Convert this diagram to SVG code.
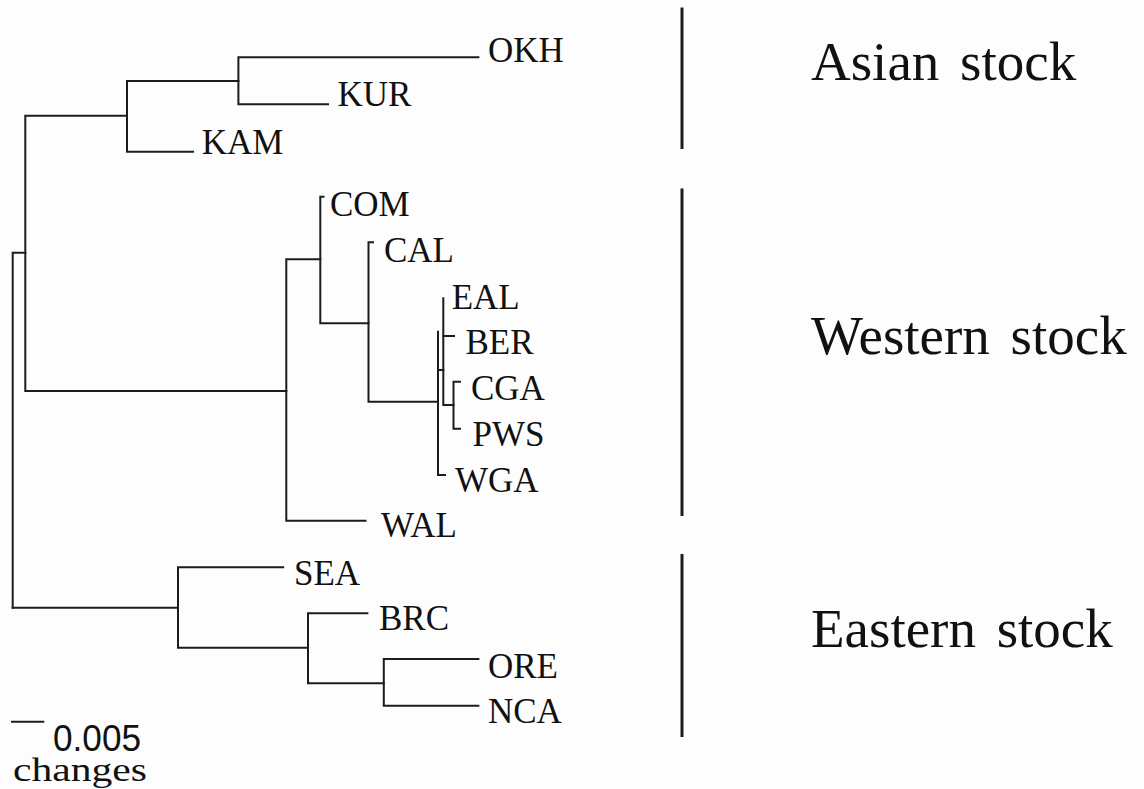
<svg xmlns="http://www.w3.org/2000/svg" width="1144" height="789" viewBox="0 0 1144 789">
  <style>
    .br { fill: none; stroke: #1c1c1c; stroke-width: 2; stroke-linecap: square; stroke-linejoin: miter; }
    .bar { stroke: #1c1c1c; stroke-width: 3; }
    .leaf { font-family: "Liberation Serif", "Times New Roman", serif; font-size: 35px; fill: #111; }
    .stock { font-family: "Liberation Serif", "Times New Roman", serif; font-size: 55px; fill: #111; word-spacing: 7px; }
    .num { font-family: "Liberation Sans", Arial, sans-serif; font-size: 37px; fill: #111; }
    .unit { font-family: "Liberation Serif", "Times New Roman", serif; font-size: 33px; fill: #111; }
  </style>
  <rect width="1144" height="789" fill="#fdfdfd"/>

  <!-- branches of the tree -->
  <g id="connectors" class="br">
    <!-- root -->
    <path d="M25.3,252.7 H12.7 V607.7"/>
    <!-- Asian + Western -->
    <path d="M127,115.7 H25.3 V391 H286.3"/>
    <!-- Asian clade -->
    <path d="M238.4,81 H127 V151.7 H193"/>
    <path d="M478.4,57.3 H238.4 V104.3 H328"/>
    <!-- Western clade -->
    <path d="M320.3,259.3 H286.3 V520.7 H365.5"/>
    <path d="M323.5,196.7 H320.3 V323.3 H368.5"/>
    <path d="M373,242.3 H368.5 V401.7 H438"/>
    <path d="M438,331.7 V475 H445"/>
    <path d="M438,370 H443.3"/>
    <path d="M443.3,298.3 V405 H453.5"/>
    <path d="M443.3,336 H454"/>
    <path d="M460,381.7 H453.5 V428.7 H460"/>
    <!-- Eastern clade -->
    <path d="M12.7,607.7 H178"/>
    <path d="M283.2,567.3 H178 V647.7 H308"/>
    <path d="M367.4,613.3 H308 V683.3 H383.8"/>
    <path d="M478.4,659 H383.8 V705.7 H478.4"/>
  </g>

  <!-- leaf labels -->
  <g id="OKH"><text class="leaf" x="488" y="61.5">OKH</text></g>
  <g id="KUR"><text class="leaf" x="337.5" y="106">KUR</text></g>
  <g id="KAM"><text class="leaf" x="201.7" y="153.5">KAM</text></g>
  <g id="COM"><text class="leaf" x="330" y="215.7">COM</text></g>
  <g id="CAL"><text class="leaf" x="384" y="262">CAL</text></g>
  <g id="EAL"><text class="leaf" x="451.7" y="308.5">EAL</text></g>
  <g id="BER"><text class="leaf" x="465.5" y="353.5">BER</text></g>
  <g id="CGA"><text class="leaf" x="471" y="400">CGA</text></g>
  <g id="PWS"><text class="leaf" x="472.5" y="446">PWS</text></g>
  <g id="WGA"><text class="leaf" x="455" y="492">WGA</text></g>
  <g id="WAL"><text class="leaf" x="381" y="537">WAL</text></g>
  <g id="SEA"><text class="leaf" x="294" y="585">SEA</text></g>
  <g id="BRC"><text class="leaf" x="379" y="630">BRC</text></g>
  <g id="ORE"><text class="leaf" x="488" y="677.7">ORE</text></g>
  <g id="NCA"><text class="leaf" x="488" y="723.3">NCA</text></g>

  <!-- scale bar -->
  <g id="scale">
    <line class="br" x1="12" y1="721.7" x2="43.3" y2="721.7"/>
    <text class="num" x="53" y="751" textLength="88" lengthAdjust="spacingAndGlyphs">0.005</text>
    <text class="unit" x="13" y="781" textLength="134" lengthAdjust="spacingAndGlyphs">changes</text>
  </g>

  <!-- stock groupings -->
  <g id="asian-stock">
    <line class="bar" x1="682" y1="7.5" x2="682" y2="149"/>
    <text class="stock" x="811" y="79.8">Asian stock</text>
  </g>
  <g id="western-stock">
    <line class="bar" x1="682" y1="188.4" x2="682" y2="516"/>
    <text class="stock" x="811" y="354.3">Western stock</text>
  </g>
  <g id="eastern-stock">
    <line class="bar" x1="682" y1="554" x2="682" y2="737"/>
    <text class="stock" x="811" y="646.7">Eastern stock</text>
  </g>
</svg>
